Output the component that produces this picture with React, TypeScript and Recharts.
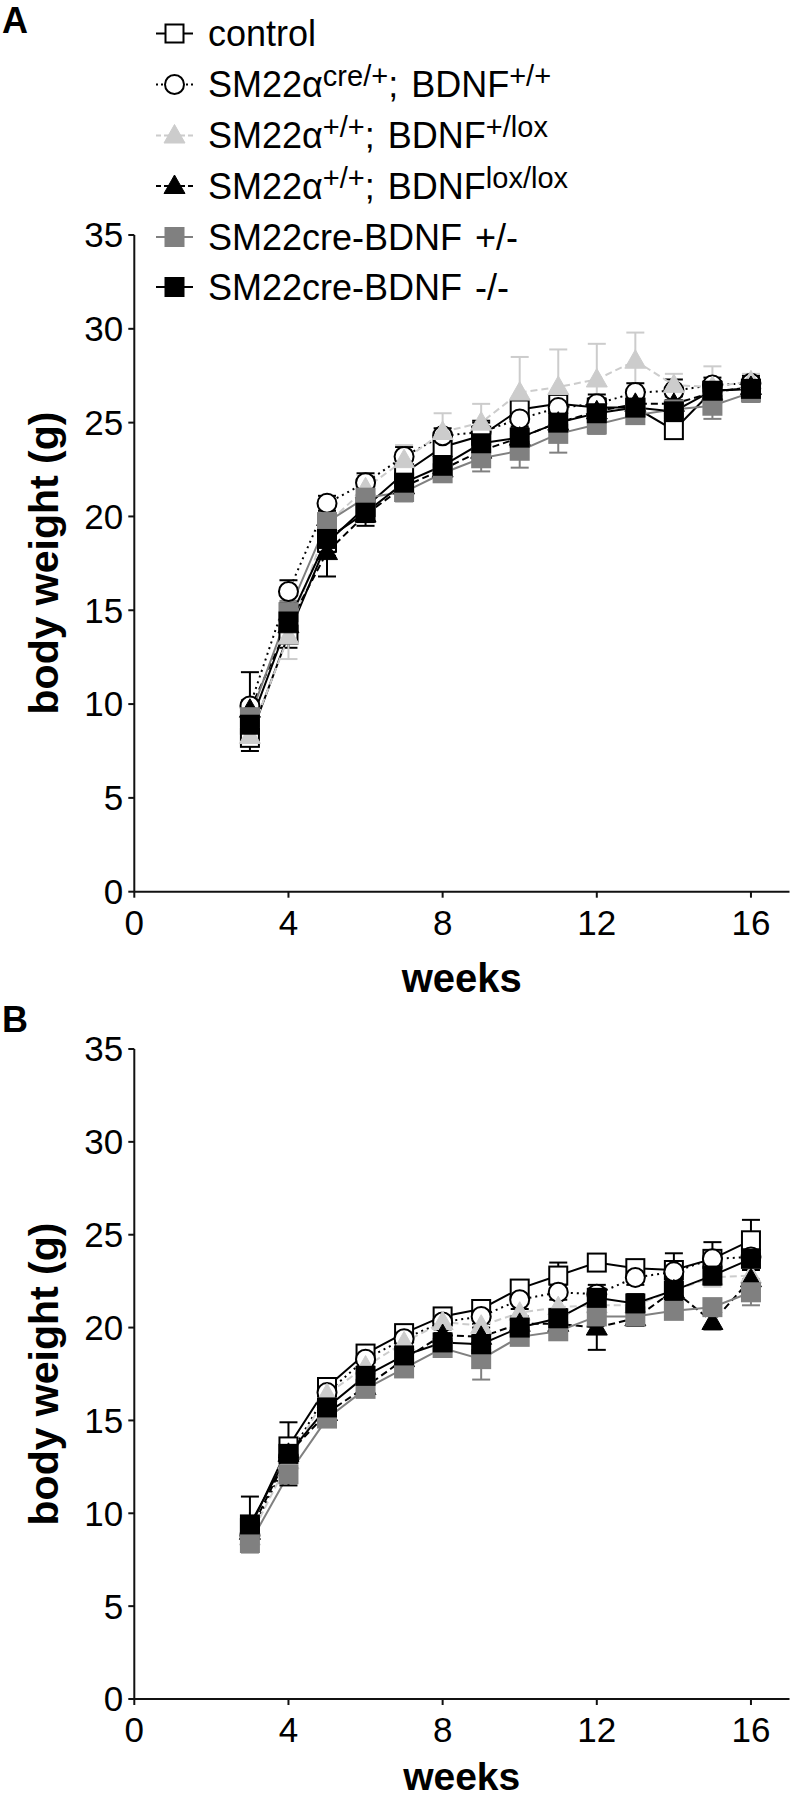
import React from 'react';
import { LineChart, Line, XAxis, YAxis, ErrorBar } from 'recharts';

// ---------- data ----------
const weeks = [3, 4, 5, 6, 7, 8, 9, 10, 11, 12, 13, 14, 15, 16];

// Panel A (body weight, g)
const aControl = [8.2, 13.7, 18.6, 20.5, 22.3, 23.7, 24.3, 25.7, 26.0, 25.8, 25.8, 24.6, 26.7, 26.8];
const aCreWT = [9.9, 16.0, 20.7, 21.8, 23.2, 24.3, 24.5, 25.2, 25.8, 26.0, 26.6, 26.7, 27.0, 27.1];
const aHetLox = [8.3, 13.6, 19.6, 21.5, 23.0, 24.5, 25.0, 26.6, 26.9, 27.3, 28.3, 27.0, 26.9, 27.2];
const aLoxLox = [9.7, 14.2, 18.1, 20.1, 21.6, 22.5, 23.5, 24.2, 25.0, 25.6, 26.0, 26.0, 26.6, 26.9];
const aCreHet = [9.3, 14.9, 19.7, 21.0, 21.3, 22.3, 23.1, 23.5, 24.4, 24.9, 25.4, 25.7, 25.9, 26.6];
const aCreKO = [8.9, 14.4, 18.8, 20.2, 21.8, 22.7, 23.9, 24.2, 25.0, 25.5, 25.8, 25.6, 26.7, 26.8];

const aControlErr = [0.7, 0.7, 0.5, 0.4, 0.4, 0.5, 0.5, 0.5, 0.4, 0.5, 0.4, 0.4, 0.5, 0.5];
const aCreWTErr = [1.8, 0.6, 0.4, 0.5, 0.5, 0.4, 0.5, 0.5, 0.4, 0.5, 0.5, 0.6, 0.4, 0.4];
const aHetLoxErr = [0.4, 1.2, 0.8, 0.7, 0.8, 1.0, 1.0, 1.9, 2.0, 1.9, 1.5, 0.6, 1.1, 0.4];
const aLoxLoxErr = [0.5, 0.5, 1.3, 0.4, 0.5, 0.4, 0.5, 0.5, 0.5, 0.5, 0.5, 0.4, 0.5, 0.5];
const aCreHetErr = [0.6, 0.6, 0.4, 0.5, 0.5, 0.4, 0.7, 0.9, 1.0, 0.5, 0.4, 0.4, 0.7, 0.5];
const aCreKOErr = [0.6, 0.6, 0.9, 0.7, 0.8, 0.5, 1.2, 0.6, 0.7, 0.5, 0.4, 0.6, 0.5, 0.6];

// Panel B (body weight, g)
const bControl = [9.2, 13.6, 16.8, 18.6, 19.7, 20.6, 21.0, 22.1, 22.8, 23.5, 23.2, 23.1, 23.7, 24.7];
const bCreWT = [8.8, 13.0, 16.5, 18.3, 19.4, 20.3, 20.6, 21.5, 21.9, 21.8, 22.7, 23.0, 23.7, 23.8];
const bHetLox = [8.7, 12.8, 16.4, 17.9, 19.2, 20.3, 20.1, 20.8, 21.1, 21.2, 21.2, 22.0, 22.7, 22.8];
const bLoxLox = [9.0, 13.2, 15.4, 16.8, 18.3, 19.6, 19.5, 20.2, 20.2, 20.0, 20.5, 22.0, 20.3, 22.6];
const bCreHet = [8.4, 12.1, 15.1, 16.7, 17.8, 18.9, 18.3, 19.5, 19.8, 20.6, 20.6, 20.9, 21.1, 21.9];
const bCreKO = [9.4, 13.2, 15.7, 17.4, 18.5, 19.2, 19.1, 20.0, 20.5, 21.6, 21.3, 22.0, 22.8, 23.7];

const bControlErr = [0.4, 0.4, 0.4, 0.3, 0.3, 0.3, 0.3, 0.4, 0.7, 0.4, 0.3, 0.4, 0.9, 1.1];
const bCreWTErr = [0.5, 0.5, 0.4, 0.4, 0.4, 0.4, 0.4, 0.5, 0.4, 0.5, 0.4, 1.0, 0.4, 0.4];
const bHetLoxErr = [0.5, 0.5, 0.4, 0.4, 0.4, 0.4, 0.5, 0.7, 0.5, 0.5, 0.5, 0.5, 0.5, 0.5];
const bLoxLoxErr = [0.5, 0.5, 0.5, 0.4, 0.4, 0.4, 0.5, 0.4, 0.4, 1.2, 0.4, 0.5, 0.4, 0.5];
const bCreHetErr = [0.4, 0.4, 0.4, 0.4, 0.4, 0.4, 1.1, 0.4, 0.4, 0.4, 0.4, 0.4, 0.4, 0.7];
const bCreKOErr = [1.5, 1.7, 0.5, 0.5, 0.5, 0.5, 0.5, 0.5, 0.5, 0.5, 0.5, 0.5, 0.5, 0.4];

const xTicks = [0, 4, 8, 12, 16];
const yTicks = [0, 5, 10, 15, 20, 25, 30, 35];

const FONT = '"Liberation Sans", Arial, Helvetica, sans-serif';

type Shape = 'square' | 'circle' | 'triangle';
interface SeriesDef {
  key: string;
  shape: Shape;
  fill: string;
  stroke: string;
  lineColor: string;
  dash?: string;
  errColor: string;
}

const series: SeriesDef[] = [
  { key: 'control', shape: 'square', fill: '#ffffff', stroke: '#000000', lineColor: '#000000', errColor: '#000000' },
  { key: 'creWT', shape: 'circle', fill: '#ffffff', stroke: '#000000', lineColor: '#000000', dash: '2 4', errColor: '#000000' },
  { key: 'hetLox', shape: 'triangle', fill: '#cccccc', stroke: '#cccccc', lineColor: '#cccccc', dash: '7 4', errColor: '#cccccc' },
  { key: 'loxLox', shape: 'triangle', fill: '#000000', stroke: '#000000', lineColor: '#000000', dash: '7 4', errColor: '#000000' },
  { key: 'creHet', shape: 'square', fill: '#808080', stroke: '#808080', lineColor: '#808080', errColor: '#808080' },
  { key: 'creKO', shape: 'square', fill: '#000000', stroke: '#000000', lineColor: '#000000', errColor: '#000000' },
];

function buildData(vals: number[][], errs: number[][]) {
  return weeks.map((w, i) => {
    const row: Record<string, number> = { w };
    series.forEach((s, k) => {
      row[s.key] = vals[k][i];
      row[s.key + 'Err'] = errs[k][i];
    });
    return row;
  });
}

const dataA = buildData(
  [aControl, aCreWT, aHetLox, aLoxLox, aCreHet, aCreKO],
  [aControlErr, aCreWTErr, aHetLoxErr, aLoxLoxErr, aCreHetErr, aCreKOErr]
);
const dataB = buildData(
  [bControl, bCreWT, bHetLox, bLoxLox, bCreHet, bCreKO],
  [bControlErr, bCreWTErr, bHetLoxErr, bLoxLoxErr, bCreHetErr, bCreKOErr]
);

function Marker({ cx, cy, s }: { cx: number; cy: number; s: SeriesDef }) {
  if (cx == null || cy == null || isNaN(cx) || isNaN(cy)) return null;
  if (s.shape === 'square') {
    return <rect x={cx - 9} y={cy - 9} width={18} height={18} fill={s.fill} stroke={s.stroke} strokeWidth={2} />;
  }
  if (s.shape === 'circle') {
    return <circle cx={cx} cy={cy} r={9.5} fill={s.fill} stroke={s.stroke} strokeWidth={2} />;
  }
  return (
    <polygon
      points={`${cx},${cy - 11} ${cx + 10.5},${cy + 7.5} ${cx - 10.5},${cy + 7.5}`}
      fill={s.fill}
      stroke={s.stroke}
      strokeWidth={1}
    />
  );
}

interface PanelProps {
  data: Record<string, number>[];
  top: number;
  height: number;
  plotTop: number;
  plotBottom: number;
}

function Panel({ data, top, height, plotTop, plotBottom }: PanelProps) {
  const tickStyle = { fontSize: 35, fill: '#000', fontFamily: FONT };
  return (
    <div style={{ position: 'absolute', left: 0, top, width: 792, height }}>
      <LineChart width={792} height={height} data={data} margin={{ top: plotTop, right: 2.5, bottom: 0, left: 0 }}>
        <XAxis
          dataKey="w"
          type="number"
          domain={[0, 17]}
          ticks={xTicks}
          interval={0}
          height={height - plotBottom}
          tickSize={6}
          tickMargin={12}
          tick={tickStyle}
          axisLine={{ stroke: '#111', strokeWidth: 2 }}
          tickLine={{ stroke: '#111', strokeWidth: 2 }}
        />
        <YAxis
          type="number"
          domain={[0, 35]}
          ticks={yTicks}
          interval={0}
          width={134.3}
          tickSize={6}
          tickMargin={5}
          tick={tickStyle}
          axisLine={{ stroke: '#111', strokeWidth: 2 }}
          tickLine={{ stroke: '#111', strokeWidth: 2 }}
        />
        {series.map((s) => (
          <Line
            key={s.key}
            dataKey={s.key}
            type="linear"
            stroke={s.lineColor}
            strokeWidth={2}
            strokeDasharray={s.dash}
            isAnimationActive={false}
            dot={(p: any) => <Marker key={`${s.key}-${p.index}`} cx={p.cx} cy={p.cy} s={s} />}
            activeDot={false}
          >
            <ErrorBar dataKey={s.key + 'Err'} direction="y" width={9} stroke={s.errColor} strokeWidth={2} />
          </Line>
        ))}
      </LineChart>
    </div>
  );
}

function LegendSymbol({ cy, s }: { cy: number; s: SeriesDef }) {
  return (
    <g>
      <line x1={156} x2={193} y1={cy} y2={cy} stroke={s.lineColor} strokeWidth={2} strokeDasharray={s.dash ? (s.dash === '2 4' ? '2 3' : '5 3') : undefined} />
      <Marker cx={174.5} cy={cy} s={s} />
    </g>
  );
}

const SUP = 29;
const SUPDY = 11;

function Overlay() {
  const rows = [33.5, 84.5, 135.5, 186, 237, 287];
  const labels: React.ReactNode[] = [
    <tspan>control</tspan>,
    <>
      <tspan>SM22α</tspan>
      <tspan dy={-SUPDY} fontSize={SUP}>cre/+</tspan>
      <tspan dy={SUPDY}>; BDNF</tspan>
      <tspan dy={-SUPDY} fontSize={SUP}>+/+</tspan>
    </>,
    <>
      <tspan>SM22α</tspan>
      <tspan dy={-SUPDY} fontSize={SUP}>+/+</tspan>
      <tspan dy={SUPDY}>; BDNF</tspan>
      <tspan dy={-SUPDY} fontSize={SUP}>+/lox</tspan>
    </>,
    <>
      <tspan>SM22α</tspan>
      <tspan dy={-SUPDY} fontSize={SUP}>+/+</tspan>
      <tspan dy={SUPDY}>; BDNF</tspan>
      <tspan dy={-SUPDY} fontSize={SUP}>lox/lox</tspan>
    </>,
    <tspan>SM22cre-BDNF +/-</tspan>,
    <tspan>SM22cre-BDNF -/-</tspan>,
  ];
  return (
    <svg
      width={792}
      height={1800}
      style={{ position: 'absolute', left: 0, top: 0, pointerEvents: 'none' }}
      fontFamily={FONT}
    >
      <text x={2} y={33} fontSize={36} fontWeight="bold" fill="#000">A</text>
      <text x={2} y={1032} fontSize={36} fontWeight="bold" fill="#000">B</text>

      <text transform="translate(58,563) rotate(-90)" textAnchor="middle" fontSize={41} fontWeight="bold" fill="#000">
        body weight (g)
      </text>
      <text transform="translate(58,1374) rotate(-90)" textAnchor="middle" fontSize={41} fontWeight="bold" fill="#000">
        body weight (g)
      </text>
      <text x={461.7} y={991.5} textAnchor="middle" fontSize={40} fontWeight="bold" fill="#000">weeks</text>
      <text x={461.7} y={1790} textAnchor="middle" fontSize={39} fontWeight="bold" fill="#000">weeks</text>

      {series.map((s, i) => (
        <g key={s.key}>
          <LegendSymbol cy={rows[i]} s={s} />
          <text x={208} y={rows[i] + 12.5} fontSize={36} fill="#000" wordSpacing={3}>
            {labels[i]}
          </text>
        </g>
      ))}
    </svg>
  );
}

export default function App() {
  return (
    <div style={{ position: 'absolute', left: 0, top: 0, width: 792, height: 1800, background: '#fff', overflow: 'hidden' }}>
      <Panel data={dataA} top={0} height={1000} plotTop={235} plotBottom={891.7} />
      <Panel data={dataB} top={1000} height={800} plotTop={49} plotBottom={699} />
      <Overlay />
    </div>
  );
}
